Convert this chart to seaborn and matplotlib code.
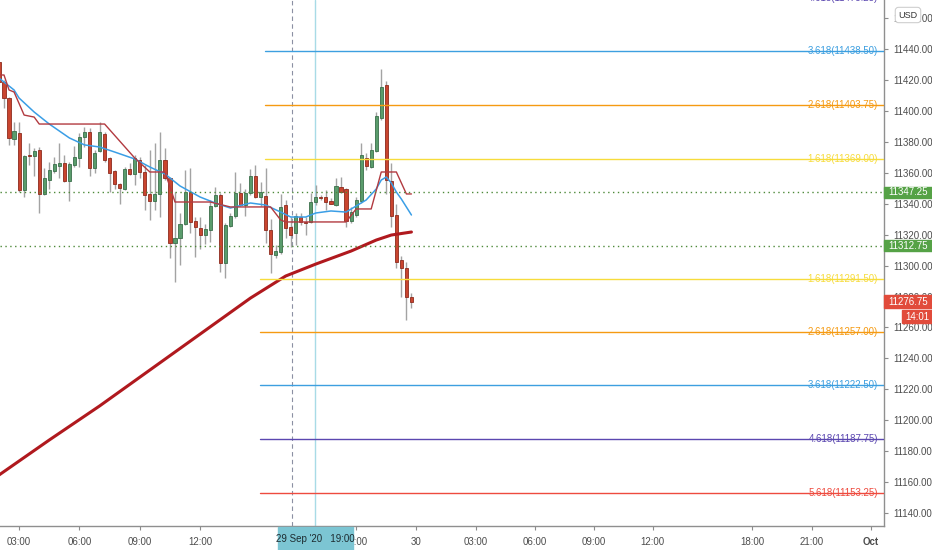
import seaborn as sns
import matplotlib.pyplot as plt
import matplotlib.transforms as mtransforms
from matplotlib.patches import Rectangle

# 15分足 NQ 29 Sep '20 — bar index -1 .. 81
opens = [
  11431.5, 11418.75, 11408.25, 11381.75, 11385.75, 11349.0, 11371.5, 11370.75, 11374.75, 11346.25,
  11355.25, 11361.25, 11364.25, 11366.25, 11354.75, 11365.0, 11369.5, 11383.0, 11386.25, 11363.0,
  11374.0, 11385.0, 11369.5, 11361.25, 11352.75, 11349.5, 11362.5, 11359.25, 11368.25, 11360.5,
  11346.25, 11341.75, 11346.25, 11368.25, 11356.5, 11314.5, 11317.75, 11327.0, 11347.5, 11328.75,
  11324.25, 11319.75, 11323.0, 11338.5, 11345.5, 11301.75, 11325.5, 11332.0, 11347.0, 11339.25,
  11347.0, 11358.0, 11344.25, 11345.0, 11323.0, 11306.75, 11308.75, 11339.25, 11325.0, 11321.0,
  11331.5, 11328.0, 11328.25, 11341.0, 11344.25, 11344.25, 11341.75, 11339.25, 11350.75, 11349.5,
  11328.75, 11332.75, 11341.75, 11369.5, 11363.75, 11374.0, 11395.5, 11416.75, 11354.75, 11332.75,
  11303.5, 11298.5, 11279.75]
highs = [
  11434.75, 11420.0, 11409.0, 11392.75, 11392.75, 11371.5, 11379.25, 11376.0, 11376.75, 11363.0,
  11367.0, 11370.25, 11379.25, 11371.5, 11367.0, 11377.25, 11385.75, 11389.5, 11389.0, 11374.75,
  11392.75, 11386.25, 11370.25, 11361.75, 11353.5, 11363.75, 11366.25, 11371.5, 11370.25, 11365.0,
  11374.75, 11379.25, 11386.25, 11376.0, 11357.25, 11347.5, 11334.0, 11361.75, 11363.0, 11331.5,
  11331.5, 11327.0, 11342.5, 11350.75, 11347.0, 11327.5, 11334.0, 11360.5, 11353.5, 11349.5,
  11362.5, 11365.0, 11354.0, 11363.0, 11330.0, 11313.25, 11346.25, 11342.5, 11331.5, 11334.0,
  11334.0, 11331.5, 11347.0, 11352.0, 11345.5, 11349.0, 11343.75, 11356.5, 11357.25, 11350.25,
  11337.75, 11344.25, 11379.25, 11372.75, 11379.25, 11399.25, 11427.0, 11419.25, 11366.25, 11339.75,
  11306.25, 11302.25, 11282.25]
lows = [
  11413.5, 11401.75, 11378.0, 11378.0, 11347.5, 11344.25, 11365.0, 11358.0, 11334.0, 11345.5,
  11349.5, 11359.75, 11356.5, 11354.0, 11341.75, 11363.75, 11363.75, 11376.75, 11358.0, 11359.75,
  11373.5, 11367.0, 11347.5, 11349.5, 11339.75, 11349.0, 11358.5, 11352.0, 11356.5, 11336.0,
  11329.5, 11336.0, 11331.5, 11355.25, 11305.0, 11289.5, 11300.25, 11326.25, 11321.0, 11305.5,
  11310.75, 11314.0, 11315.25, 11337.75, 11295.75, 11292.0, 11325.0, 11330.75, 11338.5, 11332.0,
  11345.5, 11343.75, 11338.5, 11314.5, 11295.25, 11305.0, 11307.5, 11317.75, 11312.0, 11313.25,
  11326.25, 11319.75, 11327.5, 11339.25, 11342.5, 11336.0, 11339.75, 11338.5, 11347.0, 11325.0,
  11327.5, 11331.5, 11340.5, 11361.75, 11363.0, 11373.5, 11394.0, 11346.25, 11325.0, 11298.5,
  11279.75, 11264.75, 11272.5]
closes = [
  11418.75, 11408.25, 11382.5, 11387.0, 11349.0, 11370.75, 11370.75, 11374.0, 11346.25, 11356.5,
  11361.75, 11365.75, 11366.25, 11354.75, 11365.75, 11370.25, 11383.0, 11386.25, 11363.0, 11372.75,
  11386.25, 11368.25, 11359.75, 11352.75, 11350.25, 11362.5, 11359.25, 11369.5, 11360.5, 11345.5,
  11341.75, 11346.25, 11368.25, 11356.5, 11314.5, 11317.75, 11327.0, 11347.5, 11328.25, 11325.0,
  11319.75, 11323.75, 11338.5, 11345.5, 11301.75, 11326.25, 11332.0, 11347.0, 11339.25, 11347.0,
  11358.0, 11344.25, 11347.5, 11323.0, 11307.5, 11309.5, 11337.75, 11324.25, 11319.75, 11332.0,
  11328.25, 11327.75, 11341.0, 11344.25, 11344.0, 11341.0, 11340.0, 11351.5, 11347.5, 11328.75,
  11334.75, 11342.5, 11371.5, 11364.25, 11374.75, 11396.75, 11415.5, 11355.25, 11332.0, 11302.25,
  11298.5, 11279.75, 11276.75]
bars = list(range(-1, len(opens) - 1))

# EMA(200) 赤太線
ma200_x = [-1, 9, 19, 29, 39, 49, 56, 62, 69, 74, 77, 81]
ma200_y = [11164.6, 11187.25, 11209.25, 11232.5, 11255.75, 11279.0, 11293.25, 11301.0,
           11309.4, 11316.5, 11319.75, 11321.7]

# EMA 青線
ema_x = [-1, 2, 3, 6, 9, 13, 16, 19, 22, 26, 29, 32, 35, 39, 42, 45, 49, 52, 55, 57,
         60, 62, 65, 68, 70, 72, 74, 75, 76, 77, 78, 79, 81]
ema_y = [11421.25, 11413.5, 11408.3, 11399.25, 11391.5, 11382.5, 11378.0, 11376.65, 11373.4,
         11368.9, 11363.7, 11359.2, 11351.45, 11344.3, 11340.45, 11337.2, 11340.45, 11339.15,
         11334.6, 11331.4, 11331.4, 11334.0, 11335.3, 11334.6, 11338.5, 11342.4, 11349.5,
         11355.3, 11357.25, 11353.4, 11347.55, 11343.0, 11332.7]

# 階段状の細い赤線
stop_x = [-1, 0, 1, 2, 4, 6, 7, 20, 26, 29, 32, 34, 41, 45, 53, 55, 56, 68, 70, 73, 75, 78, 80, 81]
stop_y = [11423.2, 11423.2, 11413.5, 11412.2, 11397.3, 11396.0, 11391.5, 11391.5, 11369.5,
          11360.5, 11360.5, 11341.1, 11341.1, 11337.9, 11337.9, 11329.5, 11328.2, 11328.2,
          11336.6, 11336.6, 11360.5, 11360.5, 11346.3, 11346.3]

# フィボナッチ拡張
fib_ratio = ['4.618', '3.618', '2.618', '1.618', '1.618', '2.618', '3.618', '4.618', '5.618']
fib_price = [11473.25, 11438.50, 11403.75, 11369.00, 11291.50, 11257.00, 11222.50, 11187.75, 11153.25]
fib_start = [51.9, 51.9, 51.9, 51.9, 50.9, 50.9, 50.9, 50.9, 50.9]
fib_color = ['#5b47b0', '#3d9fe0', '#f59a12', '#f7dc3c', '#f7dc3c', '#f59a12', '#3d9fe0', '#5b47b0', '#ee4b3f']

hlines = [11347.25, 11312.75]
last_price = closes[-1]

tick_pos = [3, 15, 27, 39, 70, 82, 93.8, 105.6, 117.3, 129, 148.7, 160.6, 172.4]
tick_lbl = ['03:00', '06:00', '09:00', '12:00', '21:00', '30', '03:00', '06:00', '09:00',
            '12:00', '18:00', '21:00', 'Oct']
session_bar = 57.3
cursor_bar = 61.8

sns.set_theme(style="white")
plt.rcParams['font.family'] = ['Liberation Sans', 'DejaVu Sans']

fig = plt.figure(figsize=(9.32, 5.5), dpi=100)
ax = fig.add_axes([0, 24 / 550, 884 / 932, 526 / 550])

# ローソク足
up_fc, up_ec = '#5a9c6c', '#3b6f4b'
dn_fc, dn_ec = '#c9452f', '#8d2b1e'
for b, o, h, l, c in zip(bars, opens, highs, lows, closes):
  ax.vlines(b, l, h, color='#a3a3a3', lw=1, zorder=2)
  lo = min(o, c)
  hgt = max(abs(c - o), 0.6)
  up = c >= o
  ax.bar(b, hgt, bottom=lo, width=0.62, color=up_fc if up else dn_fc,
         edgecolor=up_ec if up else dn_ec, linewidth=0.6, zorder=3)

sns.lineplot(x=ma200_x, y=ma200_y, ax=ax, color='#b0191e', lw=2.2, sort=False, zorder=4)
sns.lineplot(x=ema_x, y=ema_y, ax=ax, color='#3a9ee6', lw=1.1, sort=False, zorder=4)
sns.lineplot(x=stop_x, y=stop_y, ax=ax, color='#b23a40', lw=1.0, sort=False, zorder=4)

# 水平線
for p in hlines:
  ax.axhline(p, color='#4e8a3a', lw=1, ls=(0, (1, 2.5)), zorder=5)

ax.axvline(session_bar, color='#8b90a3', lw=0.8, ls=(0, (4, 3)), zorder=1)
ax.axvline(cursor_bar, color='#a8dbe6', lw=1, zorder=1)

xlim = (-0.795, 174.95)
blend = mtransforms.blended_transform_factory(ax.transAxes, ax.transData)
for r, p, s, c in zip(fib_ratio, fib_price, fib_start, fib_color):
  ax.plot([s, xlim[1]], [p, p], color=c, lw=1, zorder=5)
  ax.text(878 / 884, p, f'{r}({p:.2f})', transform=blend, ha='right', va='center',
          fontsize=7, color=c, clip_on=False, zorder=6)

ax.set_xlim(*xlim)
ax.set_ylim(11131.67, 11471.67)

ax.yaxis.tick_right()
ax.set_yticks(range(11140, 11461, 20))
ax.set_yticklabels([f'{v:.2f}' for v in range(11140, 11461, 20)])
ax.set_xticks(tick_pos)
ax.set_xticklabels(tick_lbl)
ax.get_xticklabels()[-1].set_fontweight('bold')
ax.get_xticklabels()[-1].set_color('#222222')
ax.tick_params(axis='y', right=True, left=False, length=3, width=0.8, color='#8c8c8c',
               labelsize=7, labelcolor='#4d4d4d', pad=4)
ax.tick_params(axis='x', bottom=True, length=3, width=0.8, color='#8c8c8c',
               labelsize=7, labelcolor='#4d4d4d', pad=5)
for side in ['top', 'left']:
  ax.spines[side].set_visible(False)
for side in ['right', 'bottom']:
  ax.spines[side].set_color('#8f8f8f')
  ax.spines[side].set_linewidth(1)
ax.grid(False)
ax.set_xlabel('')
ax.set_ylabel('')

# 右軸の価格ラベル
box_w = 48 / 884
for p in hlines:
  ax.add_patch(Rectangle((1.0, p - 3.6), box_w, 7.2, transform=blend, color='#55a246',
                         clip_on=False, zorder=7))
  ax.text(1.0 + box_w / 2, p, f'{p:.2f}', transform=blend, ha='center', va='center',
          fontsize=7, color='white', clip_on=False, zorder=8)
ax.add_patch(Rectangle((1.0, last_price - 4.2), box_w, 8.4, transform=blend, color='#e14b3b',
                       clip_on=False, zorder=7))
ax.text(1.0 + box_w / 2, last_price, f'{last_price:.2f}', transform=blend, ha='center',
        va='center', fontsize=7, color='white', clip_on=False, zorder=8)
ax.add_patch(Rectangle((1.0204, last_price - 13.9), 0.034, 8.4, transform=blend,
                       color='#e14b3b', clip_on=False, zorder=7))
ax.text(1.0204 + 0.017, last_price - 9.7, '14:01', transform=blend, ha='center',
        va='center', fontsize=7, color='white', clip_on=False, zorder=8)

# クロスヘアの時刻ラベル
fig.patches.append(Rectangle((278 / 932, 0), 75 / 932, 23 / 550, transform=fig.transFigure,
                             color='#7cc5d3', zorder=5))
fig.text(315 / 932, 11.5 / 550, "29 Sep '20   19:00", ha='center', va='center',
         fontsize=7, color='#1d2b30', zorder=6)

fig.text(908 / 932, 1 - 15 / 550, 'USD', ha='center', va='center', fontsize=6.5,
         color='#333333', zorder=6,
         bbox=dict(boxstyle='round,pad=0.35', fc='white', ec='#cfcfcf', lw=0.8))

plt.savefig('out.png', dpi=100, facecolor='white')
